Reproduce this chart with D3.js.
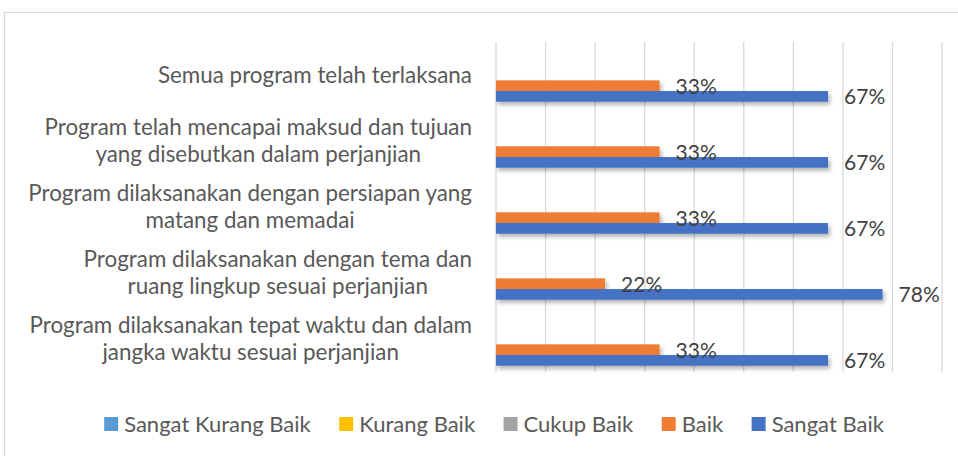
<!DOCTYPE html>
<html>
<head>
<meta charset="utf-8">
<script src="https://cdn.jsdelivr.net/npm/d3@7"></script>
<style>
  body { margin: 0; background: #fff; }
  text { font-family: Lato, "Open Sans", sans-serif; }
</style>
</head>
<body>
<script>
// categories, top to bottom (line breaks as in the original)
var categories = [
  "Semua program telah terlaksana",
  "Program telah mencapai maksud dan tujuan\nyang disebutkan dalam perjanjian",
  "Program dilaksanakan dengan persiapan yang\nmatang dan memadai",
  "Program dilaksanakan dengan tema dan\nruang lingkup sesuai perjanjian",
  "Program dilaksanakan tepat waktu dan dalam\njangka waktu sesuai perjanjian"
];

var seriesNames = ["Sangat Kurang Baik", "Kurang Baik", "Cukup Baik", "Baik", "Sangat Baik"];
var seriesColors = ["#5B9BD5", "#FFC000", "#A5A5A5", "#ED7D31", "#4472C4"];

// values per series, same order as categories
var sangatKurangBaik = [0, 0, 0, 0, 0];
var kurangBaik = [0, 0, 0, 0, 0];
var cukupBaik = [0, 0, 0, 0, 0];
var baik = [0.33, 0.33, 0.33, 0.22, 0.33];
var sangatBaik = [0.67, 0.67, 0.67, 0.78, 0.67];

var seriesValues = [sangatKurangBaik, kurangBaik, cukupBaik, baik, sangatBaik];

var xTicks = [0, 0.1, 0.2, 0.3, 0.4, 0.5, 0.6, 0.7, 0.8, 0.9];

var width = 958, height = 456;
var plotLeft = 496, plotRight = 942, plotTop = 42, plotBottom = 372;
var catFont = 22.4, labelFont = 21, legendFont = 22;
var legendGap = 28.5;

var svg = d3.select("body").append("svg")
  .attr("width", width)
  .attr("height", height);

// shadow under the bars
var defs = svg.append("defs");
defs.append("filter")
  .attr("id", "shadow")
  .attr("x", "-5%").attr("y", "-50%")
  .attr("width", "115%").attr("height", "250%")
  .append("feDropShadow")
  .attr("dx", 2).attr("dy", 3)
  .attr("stdDeviation", 2)
  .attr("flood-color", "#000")
  .attr("flood-opacity", 0.3);

// chart border (runs off the right and bottom edges)
svg.append("rect")
  .attr("x", 4.5).attr("y", 12.5)
  .attr("width", 1000).attr("height", 500)
  .attr("fill", "none")
  .attr("stroke", "#d9d9d9")
  .attr("stroke-width", 1.2);

var x = d3.scaleLinear().domain([0, 0.9]).range([plotLeft, plotRight]);

var y0 = d3.scaleBand()
  .domain(d3.range(categories.length))
  .range([plotTop, plotBottom])
  .paddingInner(0.19)
  .paddingOuter(0.095);

var y1 = d3.scaleBand()
  .domain(d3.range(seriesNames.length))
  .range([0, y0.bandwidth()]);

// gridlines
svg.append("g")
  .selectAll("line")
  .data(xTicks)
  .enter()
  .append("line")
  .attr("x1", function(d) { return x(d); })
  .attr("x2", function(d) { return x(d); })
  .attr("y1", plotTop)
  .attr("y2", plotBottom)
  .attr("stroke", "#d9d9d9")
  .attr("stroke-width", 1.3);

// category labels: block right aligned, lines centred within block
var catG = svg.append("g");
categories.forEach(function(c, i) {
  var lines = c.split("\n");
  var g = catG.append("g");
  var lineH = 27;
  var cy = y0(i) + y0.bandwidth() / 2;
  var t = g.selectAll("text")
    .data(lines)
    .enter()
    .append("text")
    .attr("y", function(d, j) { return cy + (j - (lines.length - 1) / 2) * lineH; })
    .attr("dy", "0.35em")
    .attr("text-anchor", "middle")
    .attr("fill", "#595959")
    .style("font-size", catFont + "px")
    .text(function(d) { return d; });
  var w = 0;
  t.each(function() { w = Math.max(w, this.getComputedTextLength()); });
  t.attr("x", 472 - w / 2);
});

// bars
var barLayer = svg.append("g");
var labelLayer = svg.append("g");

seriesValues.forEach(function(vals, s) {
  barLayer.append("g")
    .attr("fill", seriesColors[s])
    .selectAll("rect")
    .data(vals)
    .enter()
    .filter(function(d) { return d > 0; })
    .append("rect")
    .attr("x", x(0))
    .attr("y", function(d, i) { return y0(i) + y1(s); })
    .attr("width", function(d) { return x(d) - x(0); })
    .attr("height", y1.bandwidth())
    .attr("filter", "url(#shadow)");

  // data labels drawn on top of all bars
  labelLayer.append("g")
    .selectAll("text")
    .data(vals)
    .enter()
    .filter(function(d) { return d > 0; })
    .append("text")
    .attr("x", function(d) { return x(d) + 16; })
    .attr("y", function(d, i) { return y0(i) + y1(s) + y1.bandwidth() / 2; })
    .attr("dy", "0.38em")
    .attr("fill", "#404040")
    .style("font-size", labelFont + "px")
    .text(function(d) { return Math.round(d * 100) + "%"; });
});

// legend, centred under the chart
var legend = svg.append("g");
var items = legend.selectAll("g")
  .data(seriesNames)
  .enter()
  .append("g");

items.append("rect")
  .attr("width", 14)
  .attr("height", 14)
  .attr("y", 417)
  .attr("fill", function(d, i) { return seriesColors[i]; });

items.append("text")
  .attr("x", 20)
  .attr("y", 424)
  .attr("dy", "0.35em")
  .attr("fill", "#595959")
  .style("font-size", legendFont + "px")
  .text(function(d) { return d; });

var pos = 0, offsets = [];
items.each(function() {
  offsets.push(pos);
  pos += 20 + d3.select(this).select("text").node().getComputedTextLength() + legendGap;
});
var total = pos - legendGap;
var start = 494 - total / 2;
items.attr("transform", function(d, i) { return "translate(" + (start + offsets[i]) + ",0)"; });
</script>
</body>
</html>
